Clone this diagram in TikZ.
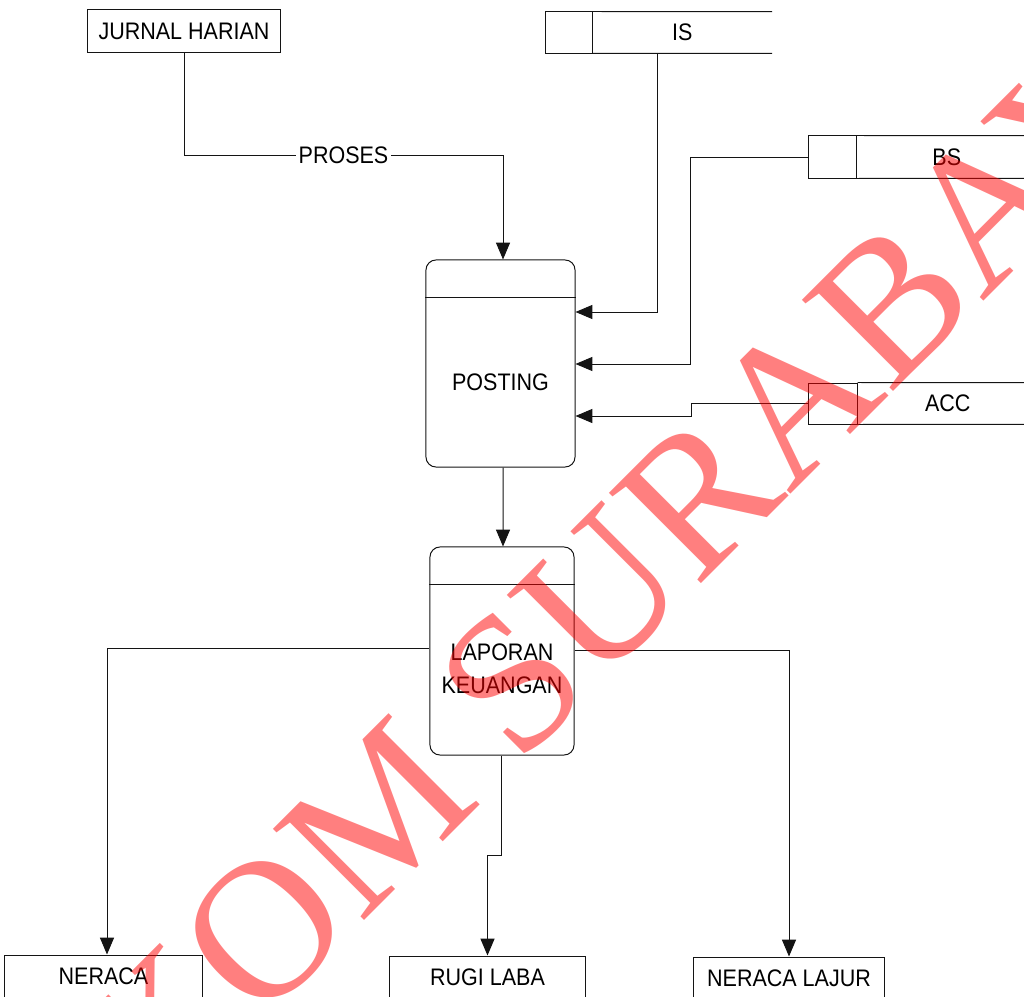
\documentclass[tikz,border=0pt]{standalone}
\usepackage{fontspec}
\setmainfont[FakeStretch=0.9]{Liberation Sans}
\newfontfamily\wmfont{Liberation Serif}
\usetikzlibrary{positioning,calc,arrows.meta}
\definecolor{cline}{HTML}{141414}
\definecolor{cwm}{HTML}{FF0000}

\tikzset{
  lbl/.style={font=\fontsize{17}{23.4}\selectfont,inner sep=1pt,align=center},
  extbox/.style={lbl,draw=cline,line width=0.7pt,minimum height=1.05cm},
  idbox/.style={draw=cline,line width=0.7pt,minimum width=1.2cm,minimum height=1.05cm,inner sep=0pt},
  storetxt/.style={lbl,minimum width=4.5cm,minimum height=1.05cm},
  procbox/.style={draw=cline,line width=0.7pt,rounded corners=0.25cm,inner sep=0pt},
  flow/.style={draw=cline,line width=0.7pt,->},
  wm/.style={font=\wmfont\fontsize{140}{140}\selectfont,text=cwm,text opacity=0.5,inner sep=0pt}
}

\begin{document}
\begin{tikzpicture}[x=0.025cm,y=-0.025cm,>={Triangle[length=12pt,width=10pt]}]
  \useasboundingbox (0,0) rectangle (1024,997);
  \begin{scope}
    \clip (0,0) rectangle (1024,997);
    % external entities
    \node[extbox,minimum width=4.8cm] (jurnal) at (184,31) {JURNAL HARIAN};
    \node[extbox,minimum width=4.925cm,minimum height=1.075cm] (neraca) at (103.5,976.5) {NERACA};
    \node[extbox,minimum width=4.875cm,minimum height=1.075cm] (rugi) at (487.5,977.5) {RUGI LABA};
    \node[extbox,minimum width=4.75cm,minimum height=1.075cm] (lajur) at (789,978.5) {NERACA LAJUR};

    % data stores (open at the right)
    \node[idbox,minimum width=1.175cm,minimum height=1.025cm] (isid) at (568.5,32.5) {};
    \node[storetxt,minimum width=4.475cm,minimum height=1.025cm,right=0pt of isid] (is) {IS};
    \draw[cline,line width=0.7pt] (isid.north east) -- (is.north east) (isid.south east) -- (is.south east);
    \node[idbox] (bsid) at (832,157) {};
    \node[storetxt,right=0pt of bsid] (bs) {BS};
    \draw[cline,line width=0.7pt] (bsid.north east) -- (bs.north east) (bsid.south east) -- (bs.south east);
    \node[idbox,minimum width=1.225cm,minimum height=1.025cm] (accid) at (832.5,403.5) {};
    \node[storetxt,minimum height=1.025cm,right=0pt of accid] (acc) {ACC};
    \draw[cline,line width=0.7pt] (accid.north east) -- (acc.north east) (accid.south east) -- (acc.south east);

    % processes
    \node[procbox,minimum width=3.725cm,minimum height=5.175cm] (postingbox) at (500.5,363.5) {};
    \draw[cline,line width=0.7pt] ($(postingbox.north west)+(0,38)$) -- ($(postingbox.north east)+(0,38)$);
    \node[lbl] (posting) at ($(postingbox.center)+(0,19)$) {POSTING};
    \node[procbox,minimum width=3.6cm,minimum height=5.2cm] (laporanbox) at (502,651) {};
    \draw[cline,line width=0.7pt] ($(laporanbox.north west)+(0,38)$) -- ($(laporanbox.north east)+(0,38)$);
    \node[lbl] (laporan) at ($(laporanbox.center)+(0,17.5)$) {LAPORAN\\KEUANGAN};

    % flows into posting
    \draw[flow] (jurnal.south) -- ++(0,103) -| node[pos=0.25,lbl,fill=white,inner sep=2pt] {PROSES} ($(postingbox.north)+(2.5,0)$);
    \draw[flow] ($(isid.south east)+(65,0)$) |- ($(postingbox.east)+(0,-51.5)$);
    \draw[flow] (bsid.west) -- ++(-117,0) |- ($(postingbox.east)+(0,0.5)$);
    \draw[flow] (accid.west) -- ++(-116,0) |- ($(postingbox.east)+(0,52.5)$);
    \draw[flow] ($(postingbox.south)+(2.5,0)$) -- ($(laporanbox.north)+(1,0)$);

    % flows out of laporan keuangan
    \draw[flow] ($(laporanbox.west)+(0,-3)$) -| ($(neraca.north)+(3.5,0)$);
    \draw[flow] ($(laporanbox.south)+(-1,0)$) -- ++(0,100) -| (rugi.north);
    \draw[flow] ($(laporanbox.east)+(0,-1)$) -| (lajur.north);

    % watermark
    \node[wm,rotate=45,anchor=base west] (wmark) at (-50,1335) {STIKOM SURABAYA};
  \end{scope}
\end{tikzpicture}
\end{document}
